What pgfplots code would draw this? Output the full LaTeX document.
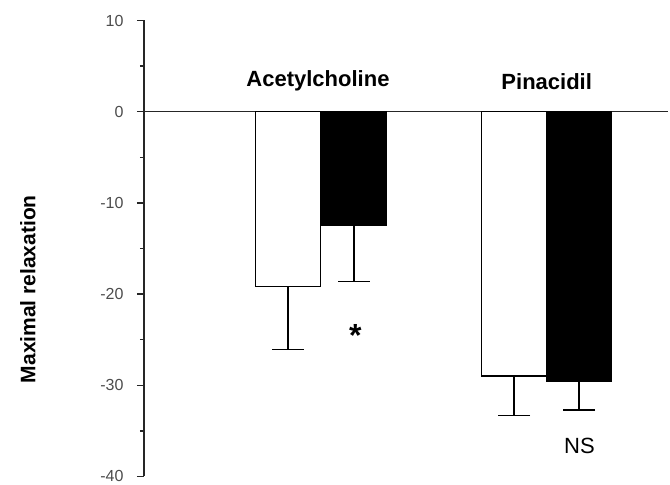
\documentclass[border=0pt]{standalone}
\usepackage{fontspec}
\setmainfont{Liberation Sans}
\usepackage{pgfplots}
\pgfplotsset{compat=1.18}
\begin{document}
\begin{tikzpicture}
\begin{axis}[
  name=ax,
  scale only axis,
  width=524pt, height=456pt,
  xmin=0, xmax=524,
  ymin=-40, ymax=10,
  axis x line*=middle,
  axis y line*=left,
  xtick=\empty,
  ytick={-40,-30,-20,-10,0,10},
  minor y tick num=1,
  ytick align=outside,
  major tick length=7pt,
  minor tick length=4pt,
  every tick/.style={line width=1.5pt, color=black!85},
  axis line style={line width=1.6pt, color=black!85},
  /pgf/number format/assume math mode=true,
  yticklabel style={font=\fontsize{16}{18}\selectfont, color=black!70, xshift=-10pt},
  ylabel={Maximal relaxation},
  every axis y label/.style={at={(axis description cs:-0.2214,0.4107)}, rotate=90, anchor=center, font=\fontsize{21}{24}\selectfont\bfseries},
  clip=false,
  ybar, bar shift=0pt, bar width=65,
  error bars/y dir=minus,
  error bars/y explicit,
  error bars/error mark=|,
  error bars/error bar style={line width=1.5pt, black},
  error bars/error mark options={mark size=16pt, line width=1.5pt, black},
]
\addplot[draw=black, fill=white, line width=1.5pt] coordinates {
  (144,-19.15) +- (0,6.95)
  (370,-29.0) +- (0,4.3)
};
\addplot[draw=black, fill=black, line width=1.5pt] coordinates {
  (210,-12.5) +- (0,6.1)
  (435,-29.6) +- (0,3.1)
};
\node[font=\fontsize{22}{26}\selectfont\bfseries] at (axis cs:174,3.35) {Acetylcholine};
\node[font=\fontsize{22}{26}\selectfont\bfseries] at (axis cs:402.7,3.35) {Pinacidil};
\node[font=\fontsize{32}{34}\selectfont\bfseries] at (axis cs:211.3,-24.5) {*};
\node[font=\fontsize{22}{26}\selectfont] at (axis cs:435.5,-36.65) {NS};
\end{axis}
\pgfresetboundingbox
\path[use as bounding box] ([xshift=-144pt,yshift=-8.5pt]ax.south west) rectangle ([xshift=2pt,yshift=20.5pt]ax.north east);
\end{tikzpicture}
\end{document}
